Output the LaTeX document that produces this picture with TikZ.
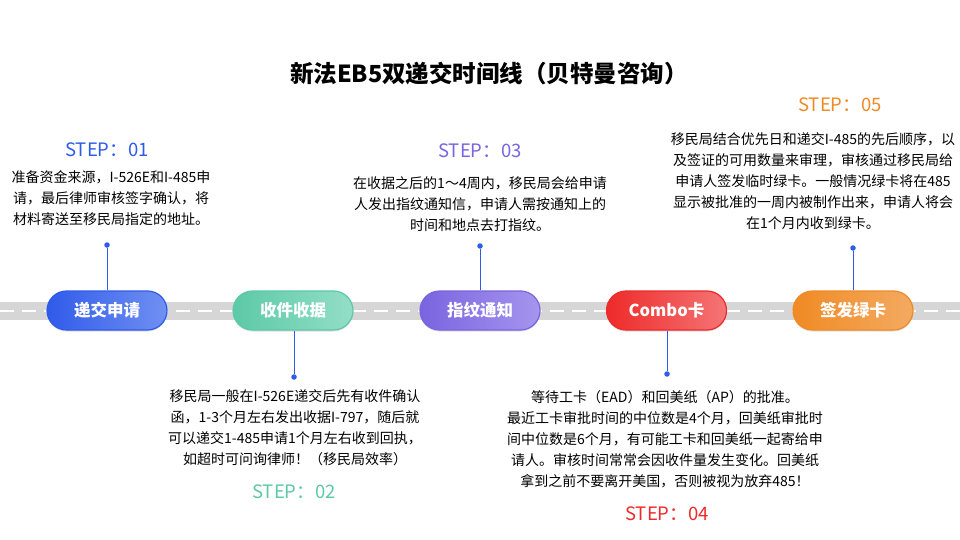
\documentclass[tikz,border=0pt]{standalone}
\usepackage{fontspec}
\setmainfont{Noto Sans CJK SC}
\usetikzlibrary{shadows}
\definecolor{cblue}{HTML}{2F5BEA}
\definecolor{cblueL}{HTML}{7190F2}
\definecolor{cgreen}{HTML}{5CC9A7}
\definecolor{cgreenL}{HTML}{93DEC6}
\definecolor{cpurple}{HTML}{7A64E0}
\definecolor{cpurpleL}{HTML}{A596EE}
\definecolor{cred}{HTML}{EE2A2A}
\definecolor{credL}{HTML}{F57575}
\definecolor{corange}{HTML}{F08A24}
\definecolor{corangeL}{HTML}{F4AA62}
\definecolor{road}{HTML}{D6D6D6}
\definecolor{linkc}{HTML}{2F5BEA}
\tikzset{
  pill/.style n args={2}{draw=#1, line width=1.2pt, left color=#1, right color=#2,
    rounded corners=19.5pt, minimum width=120pt, minimum height=39pt,
    text=white, font=\fontsize{16.5}{19}\selectfont\bfseries, inner sep=0pt,
    drop shadow={shadow xshift=0pt, shadow yshift=-1.5pt, opacity=0.25}},
  stepl/.style={font=\fontsize{18.5}{22}\selectfont, text=#1},
  body/.style={font=\fontsize{14}{21.2}\selectfont, align=center, text=black, inner sep=0pt},
  dotc/.style={circle, fill=linkc, inner sep=0pt, minimum size=5.5pt},
  link/.style={draw=linkc, line width=1pt}
}
\begin{document}
\begin{tikzpicture}[x=1pt, y=-1pt]
\useasboundingbox (0,0) rectangle (960,540);
\fill[white] (0,0) rectangle (960,540);
% title
\node[font=\fontsize{23.5}{28}\selectfont\bfseries] (title) at (489,74) {新法EB5双递交时间线（贝特曼咨询）};
% road
\fill[road] (0,302) rectangle (960,320);
\draw[white, line width=2pt, dash pattern=on 14pt off 8pt] (0,311) -- (960,311);
% pills
\node[pill={cblue}{cblueL}] (p1) at (107,310.5) {递交申请};
\node[pill={cgreen}{cgreenL}] (p2) at (293,310.5) {收件收据};
\node[pill={cpurple}{cpurpleL}] (p3) at (480,310.5) {指纹通知};
\node[pill={cred}{credL}] (p4) at (666.5,310.5) {Combo卡};
\node[pill={corange}{corangeL}] (p5) at (853,310.5) {签发绿卡};
% dots
\node[dotc] (d1) at (107,245) {};
\node[dotc] (d2) at (294,377) {};
\node[dotc] (d3) at (480,246) {};
\node[dotc] (d4) at (667,374) {};
\node[dotc] (d5) at (853,248) {};
\draw[link] (p1.north) -- (d1);
\draw[link] (p2.south -| d2) -- (d2);
\draw[link] (p3.north) -- (d3);
\draw[link] (p4.south -| d4) -- (d4);
\draw[link] (p5.north) -- (d5);
% step labels
\node[stepl=cblue] (s1) at (107,150) {STEP：01};
\node[stepl=cgreen] (s2) at (294,492) {STEP：02};
\node[stepl=cpurple] (s3) at (480,151) {STEP：03};
\node[stepl=cred] (s4) at (667,514) {STEP：04};
\node[stepl=corange] (s5) at (840,105) {STEP：05};
% texts
\node[body, anchor=north] (t1) at (111,170) {准备资金来源，I-526E和I-485申\\请，最后律师审核签字确认，将\\材料寄送至移民局指定的地址。};
\node[body, anchor=north] (t2) at (295,389) {移民局一般在I-526E递交后先有收件确认\\函，1-3个月左右发出收据I-797，随后就\\可以递交1-485申请1个月左右收到回执，\\如超时可问询律师！（移民局效率）};
\node[body, anchor=north] (t3) at (480,176) {在收据之后的1～4周内，移民局会给申请\\人发出指纹通知信，申请人需按通知上的\\时间和地点去打指纹。};
\node[body, anchor=north] (t4) at (665,390) {等待工卡（EAD）和回美纸（AP）的批准。\\最近工卡审批时间的中位数是4个月，回美纸审批时\\间中位数是6个月，有可能工卡和回美纸一起寄给申\\请人。审核时间常常会因收件量发生变化。回美纸\\拿到之前不要离开美国，否则被视为放弃485！};
\node[body, anchor=north] (t5) at (813,132) {移民局结合优先日和递交I-485的先后顺序，以\\及签证的可用数量来审理，审核通过移民局给\\申请人签发临时绿卡。一般情况绿卡将在485\\显示被批准的一周内被制作出来，申请人将会\\在1个月内收到绿卡。};
\end{tikzpicture}
\end{document}
